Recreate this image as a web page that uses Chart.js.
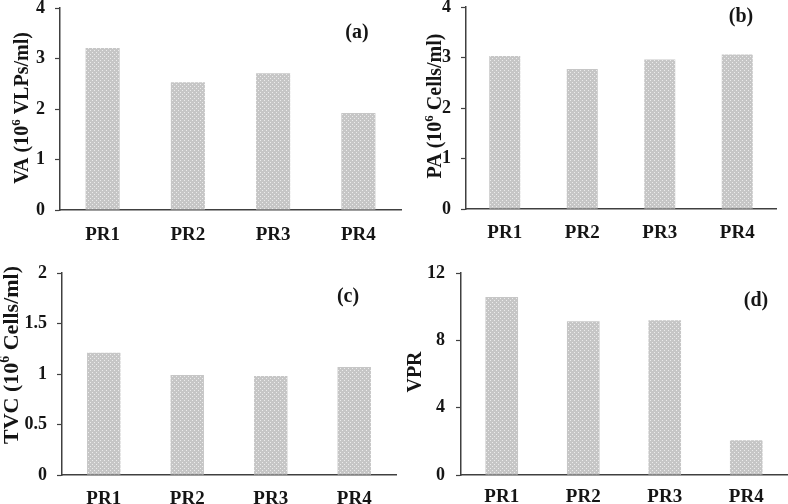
<!DOCTYPE html>
<html>
<head>
<meta charset="utf-8">
<script src="https://cdn.jsdelivr.net/npm/chart.js@4.4.1/dist/chart.umd.min.js"></script>
<style>
  body { margin: 0; background: #fff; }
  #page { position: relative; width: 788px; height: 504px; overflow: hidden; background: #fff; }
  .panel { position: absolute; }
</style>
</head>
<body>
<div id="page">
  <div class="panel" style="left:0px;top:0px;width:402px;height:252px"><canvas id="chart-a"></canvas></div>
  <div class="panel" style="left:394px;top:0px;width:394px;height:252px"><canvas id="chart-b"></canvas></div>
  <div class="panel" style="left:0px;top:252px;width:397px;height:252px"><canvas id="chart-c"></canvas></div>
  <div class="panel" style="left:394px;top:252px;width:394px;height:252px"><canvas id="chart-d"></canvas></div>
</div>
<script>
// data
const categories = ["PR1", "PR2", "PR3", "PR4"];

const vaValues = [3.21, 2.53, 2.71, 1.92];
const paValues = [3.03, 2.77, 2.96, 3.06];
const tvcValues = [1.21, 0.99, 0.98, 1.07];
const vprValues = [10.57, 9.13, 9.19, 2.06];

const vaTicks = [0, 1, 2, 3, 4];
const paTicks = [0, 1, 2, 3, 4];
const tvcTicks = [0, 0.5, 1, 1.5, 2];
const vprTicks = [0, 4, 8, 12];

const axisColor = "#404040";
const textColor = "#151515";
const serif = "'Liberation Serif', 'Times New Roman', serif";

// dotted grey fill like the original bars
function dotPattern() {
    const tile = document.createElement("canvas");
    tile.width = 4;
    tile.height = 4;
    const c = tile.getContext("2d");
    c.fillStyle = "#c6c6c6";
    c.fillRect(0, 0, 4, 4);
    c.fillStyle = "#ececec";
    c.fillRect(0, 0, 1, 1);
    c.fillRect(2, 2, 1, 1);
    return document.createElement("canvas").getContext("2d").createPattern(tile, "repeat");
}

// rotated y title (with superscript) and the (a)/(b)... tag
const panelText = {
    id: "panelText",
    afterDraw(chart, args, opts) {
        const ctx = chart.ctx;
        ctx.save();
        ctx.fillStyle = textColor;
        ctx.font = "bold " + opts.tagSize + "px " + serif;
        ctx.textAlign = "center";
        ctx.textBaseline = "alphabetic";
        ctx.fillText(opts.tag, opts.tagX, opts.tagY + opts.tagSize * 0.35);
        ctx.restore();

        ctx.save();
        ctx.fillStyle = textColor;
        ctx.translate(opts.titleX, opts.titleY);
        ctx.rotate(-Math.PI / 2);
        ctx.textAlign = "left";
        ctx.textBaseline = "alphabetic";
        const size = opts.titleSize;
        const supSize = Math.round(size * 0.65);
        let total = 0;
        opts.title.forEach((p) => {
            ctx.font = "bold " + (p.sup ? supSize : size) + "px " + serif;
            total += ctx.measureText(p.t).width;
        });
        let x = -total / 2;
        const base = size * 0.35;
        opts.title.forEach((p) => {
            ctx.font = "bold " + (p.sup ? supSize : size) + "px " + serif;
            ctx.fillText(p.t, x, p.sup ? base - size * 0.38 : base);
            x += ctx.measureText(p.t).width;
        });
        ctx.restore();
    },
};

function makeChart(id, values, ticks, box, text) {
    const ctx = document.getElementById(id).getContext("2d");
    return new Chart(ctx, {
        type: "bar",
        data: {
            labels: categories,
            datasets: [{
                data: values,
                backgroundColor: dotPattern(),
                borderWidth: 0,
                barPercentage: 0.4,
                categoryPercentage: 1,
            }],
        },
        options: {
            responsive: true,
            maintainAspectRatio: false,
            animation: false,
            events: [],
            layout: { padding: { left: 0, right: box.right, top: box.top, bottom: 0 } },
            plugins: {
                legend: { display: false },
                tooltip: { enabled: false },
                panelText: text,
            },
            scales: {
                x: {
                    offset: true,
                    grid: { display: false },
                    border: { display: true, color: axisColor, width: 1.5 },
                    ticks: {
                        color: textColor,
                        padding: box.labelPad,
                        font: { family: serif, size: 19, weight: "bold", lineHeight: 1.2 },
                    },
                    afterFit(scale) {
                        scale.height = box.xHeight;
                        scale.paddingLeft = 0;
                        scale.paddingRight = 0;
                    },
                },
                y: {
                    min: ticks[0],
                    max: ticks[ticks.length - 1],
                    afterBuildTicks(scale) {
                        scale.ticks = ticks.map((v) => ({ value: v }));
                    },
                    grid: {
                        display: true,
                        drawOnChartArea: false,
                        drawTicks: true,
                        tickLength: 5,
                        tickWidth: 1.2,
                        tickColor: axisColor,
                    },
                    border: { display: true, color: axisColor, width: 1.5 },
                    ticks: {
                        color: textColor,
                        padding: box.tickPad,
                        font: { family: serif, size: 18, weight: "bold", lineHeight: 1.2 },
                        callback: (v) => String(v),
                    },
                    afterFit(scale) {
                        scale.width = box.yWidth;
                        scale.paddingTop = 0;
                        scale.paddingBottom = 0;
                    },
                },
            },
        },
        plugins: [panelText],
    });
}

makeChart("chart-a", vaValues, vaTicks,
    { yWidth: 60, right: 1, top: 8, xHeight: 42, labelPad: 6, tickPad: 10 },
    { tag: "(a)", tagX: 357, tagY: 31, tagSize: 20, titleX: 20.5, titleY: 108, titleSize: 20,
      title: [{ t: "VA (10" }, { t: "6", sup: true }, { t: " VLPs/ml)" }] });

makeChart("chart-b", paValues, paTicks,
    { yWidth: 72, right: 12, top: 7, xHeight: 43, labelPad: 5, tickPad: 10 },
    { tag: "(b)", tagX: 347, tagY: 15, tagSize: 20, titleX: 39.5, titleY: 106, titleSize: 20,
      title: [{ t: "PA (10" }, { t: "6", sup: true }, { t: " Cells/ml)" }] });

makeChart("chart-c", tvcValues, tvcTicks,
    { yWidth: 62, right: 1, top: 21, xHeight: 29, labelPad: 5, tickPad: 10 },
    { tag: "(c)", tagX: 348, tagY: 43, tagSize: 20, titleX: 10, titleY: 103, titleSize: 22,
      title: [{ t: "TVC (10" }, { t: "6", sup: true }, { t: " Cells/ml)" }] });

makeChart("chart-d", vprValues, vprTicks,
    { yWidth: 67, right: 1, top: 21, xHeight: 29, labelPad: 3, tickPad: 11 },
    { tag: "(d)", tagX: 362, tagY: 47, tagSize: 20, titleX: 19.5, titleY: 120, titleSize: 20,
      title: [{ t: "VPR" }] });
</script>
</body>
</html>
